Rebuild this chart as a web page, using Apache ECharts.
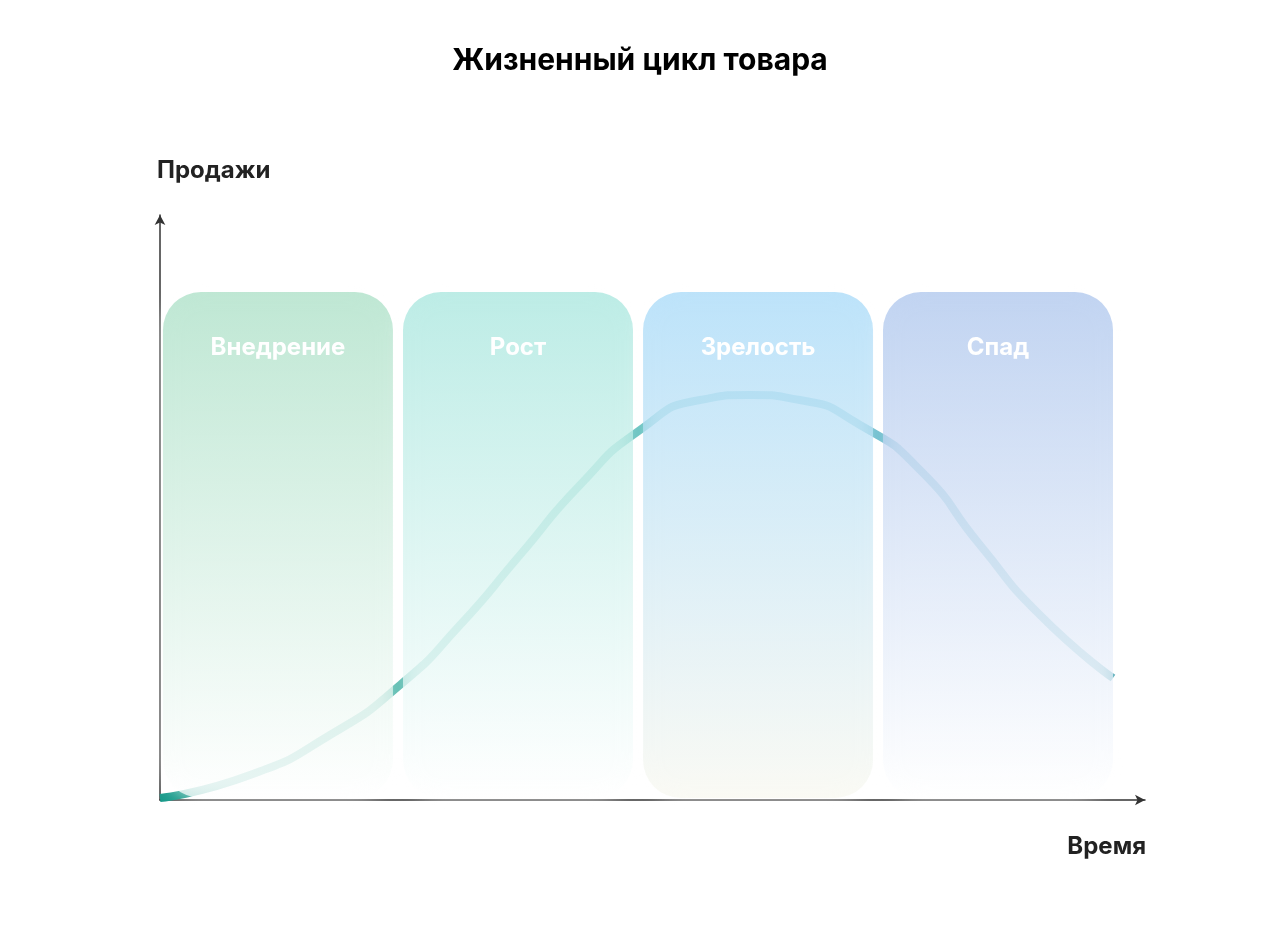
<!DOCTYPE html>
<html><head><meta charset="utf-8">
<script src="https://cdn.jsdelivr.net/npm/echarts@6/dist/echarts.min.js"></script>
<style>html,body{margin:0;padding:0;background:#fff}#c{width:1280px;height:942px}</style>
</head><body><div id="c"></div>
<script>
const stages = ['Внедрение','Рост','Зрелость','Спад'];
const stageStart = [0.3, 24.67, 49.04, 73.4];
const stageEnd = [23.65, 48.02, 72.39, 96.75];
const stageTop = 86.84, stageBottom = 0.34;
const stageColors = [['#a6dec3','#ffffff'],['#a3e5dc','#ffffff'],['#a3d8f8','#f8f8f0'],['#a9c3ec','#ffffff']];
const curveX = [0,9.14,17.26,24.37,30.46,36.55,42.64,48.73,54.82,59.9,64.97,71.07,77.16,83.25,89.34,96.75];
const curveY = [0.34,4.27,11.11,19.66,29.91,41.88,53.85,63.25,68.38,69.23,68.38,64.10,56.41,43.59,31.62,20.85];

const chart = echarts.init(document.getElementById('c'));
chart.setOption({
  animation:false,
  title:{text:'Жизненный цикл товара',left:'center',top:41,textStyle:{fontFamily:'Inter',fontWeight:'bold',fontSize:30,color:'#000'}},
  grid:{left:160,right:135,top:215,bottom:142},
  xAxis:{type:'value',min:0,max:100,splitLine:{show:false},axisTick:{show:false},axisLabel:{show:false},
    axisLine:{symbol:['none','arrow'],symbolSize:[8,10],lineStyle:{color:'#333',width:1.5}}},
  yAxis:{type:'value',min:0,max:100,splitLine:{show:false},axisTick:{show:false},axisLabel:{show:false},
    axisLine:{symbol:['none','arrow'],symbolSize:[8,10],lineStyle:{color:'#333',width:1.5}}},
  graphic:[
    {type:'text',left:157,top:159,style:{text:'Продажи',font:'bold 24px Inter',fill:'#222'}},
    {type:'text',right:134,top:835,style:{text:'Время',font:'bold 24px Inter',fill:'#222'}}
  ],
  series:[
    {type:'line',z:1,smooth:0.6,symbol:'none',data:curveX.map((x,i)=>[x,curveY[i]]),
      lineStyle:{width:8,color:new echarts.graphic.LinearGradient(0,0,1,0,[{offset:0,color:'#189a8a'},{offset:0.45,color:'#22a898'},{offset:0.62,color:'#36aac4'},{offset:1,color:'#2a95a5'}])}},
    {type:'custom',z:2,data:stages.map((s,i)=>[stageStart[i],stageEnd[i],i]),
      renderItem:(params,api)=>{
        const i=api.value(2);
        const p1=api.coord([api.value(0),stageTop]);
        const p2=api.coord([api.value(1),stageBottom]);
        return {type:'group',children:[
          {type:'rect',shape:{x:p1[0],y:p1[1],width:p2[0]-p1[0],height:p2[1]-p1[1],r:38},
           style:{fill:new echarts.graphic.LinearGradient(0,0,0,1,[{offset:0,color:stageColors[i][0]},{offset:1,color:stageColors[i][1]}]),
             opacity:0.72,shadowBlur:18,shadowColor:'rgba(255,255,255,0.9)'}},
          {type:'text',x:(p1[0]+p2[0])/2,y:p1[1]+56,style:{text:stages[i],font:'bold 24px Inter',fill:'#fff',align:'center',verticalAlign:'middle'},z2:10}
        ]};
      }}
  ]
});
</script></body></html>
